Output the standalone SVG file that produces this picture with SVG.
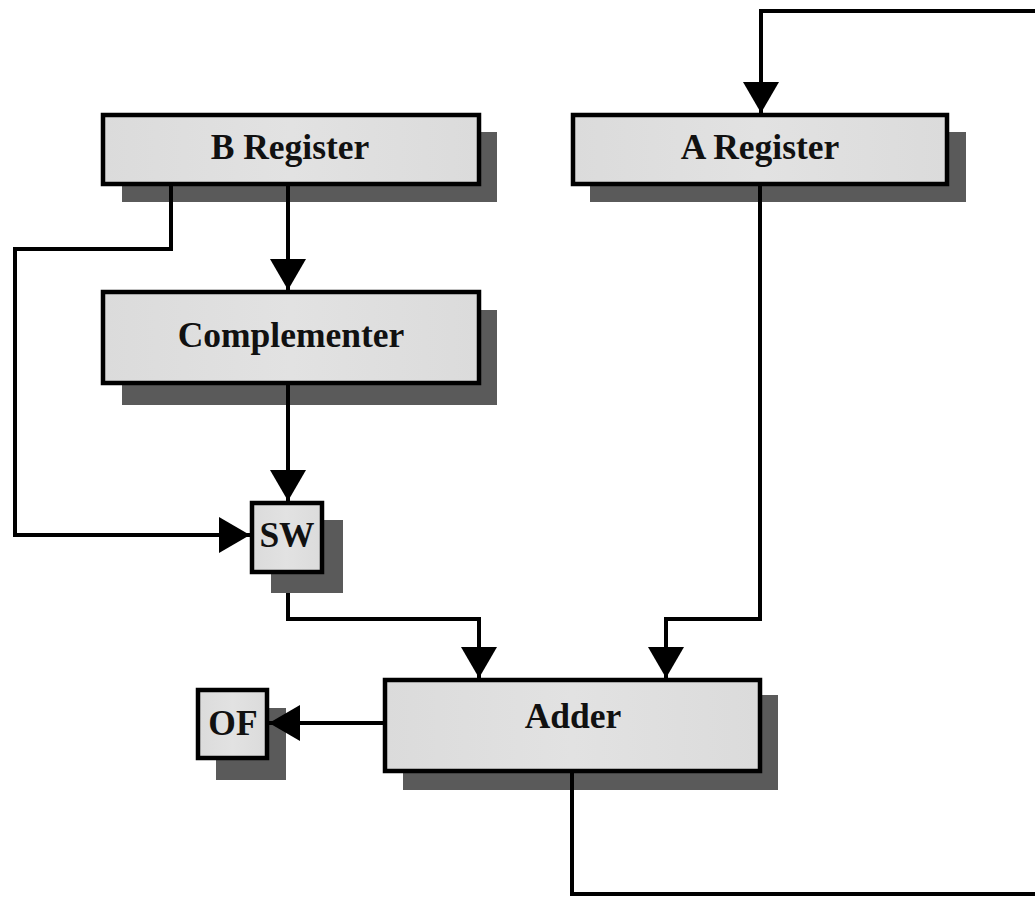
<svg xmlns="http://www.w3.org/2000/svg" width="1035" height="898" viewBox="0 0 1035 898">
<defs>
<linearGradient id="fill" x1="0" y1="0" x2="1" y2="0">
<stop offset="0" stop-color="#dbdbdb"/>
<stop offset="0.5" stop-color="#e2e2e2"/>
<stop offset="1" stop-color="#dbdbdb"/>
</linearGradient>
<marker id="arr" markerUnits="userSpaceOnUse" markerWidth="32" markerHeight="38" refX="31" refY="18" orient="auto">
<path d="M0,0 L31,18 L0,36 Z" fill="#000"/>
</marker>
</defs>
<style>
.shadow{fill:#5a5a5a}
.box{fill:url(#fill);stroke:#000;stroke-width:4.5}
.lbl{font-family:"Liberation Serif","Times New Roman",serif;font-weight:bold;font-size:35.5px;fill:#111;text-anchor:middle}
.wire{fill:none;stroke:#000;stroke-width:4}
</style>
<rect width="1035" height="898" fill="#fff"/>
<g id="b-register">
<rect class="shadow" x="122" y="132" width="375" height="70"/>
<rect class="box" x="103" y="115" width="376" height="69"/>
<text class="lbl" x="290" y="159">B Register</text>
</g>
<g id="a-register">
<rect class="shadow" x="590" y="132" width="376" height="70"/>
<rect class="box" x="573" y="115" width="374" height="69"/>
<text class="lbl" x="760" y="159">A Register</text>
</g>
<g id="complementer">
<rect class="shadow" x="122" y="310" width="375" height="95"/>
<rect class="box" x="103" y="292" width="376" height="91"/>
<text class="lbl" x="291" y="347">Complementer</text>
</g>
<g id="sw">
<rect class="shadow" x="271" y="520" width="72" height="73"/>
<rect class="box" x="252" y="503" width="70" height="69"/>
<text class="lbl" x="287" y="547">SW</text>
</g>
<g id="adder">
<rect class="shadow" x="403" y="695" width="375" height="95"/>
<rect class="box" x="385" y="680" width="375" height="91"/>
<text class="lbl" x="573" y="728">Adder</text>
</g>
<g id="of">
<rect class="shadow" x="216" y="708" width="70" height="72"/>
<rect class="box" x="198" y="690" width="69" height="68"/>
<text class="lbl" x="233" y="735">OF</text>
</g>
<g id="connectors">
<path class="wire" d="M288,186 V290" marker-end="url(#arr)"/>
<path class="wire" d="M171,186 V249 H15 V535 H250" marker-end="url(#arr)"/>
<path class="wire" d="M288,385 V501" marker-end="url(#arr)"/>
<path class="wire" d="M288,593 V619 H479 V678" marker-end="url(#arr)"/>
<path class="wire" d="M760,186 V619 H666 V678" marker-end="url(#arr)"/>
<path class="wire" d="M385,723 H269" marker-end="url(#arr)"/>
<path class="wire" d="M572,773 V894 H1045 V11 H761 V113" marker-end="url(#arr)"/>
</g>
</svg>
